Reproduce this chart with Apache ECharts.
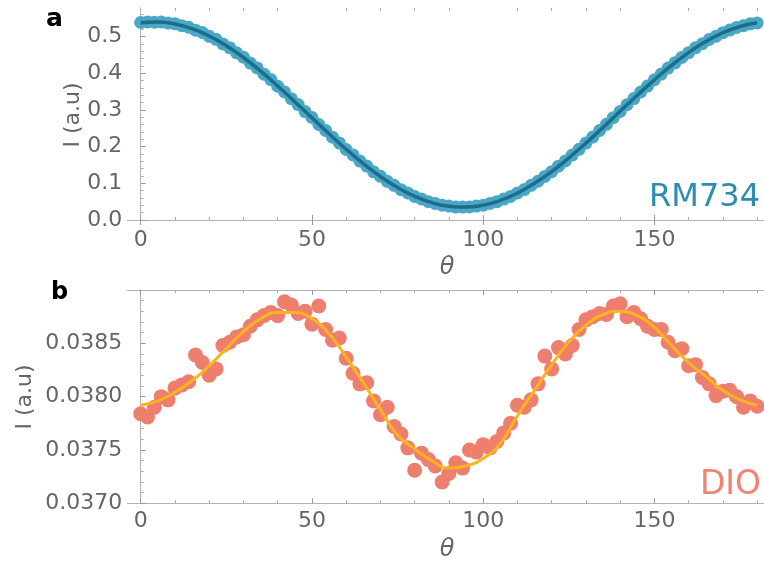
<!DOCTYPE html>
<html>
<head>
<meta charset="utf-8">
<script src="https://cdn.jsdelivr.net/npm/echarts@6.0.0/dist/echarts.min.js"></script>
<style>
html,body{margin:0;padding:0;background:#fff;}
#chart{width:764px;height:569px;}
</style>
</head>
<body>
<div id="chart"></div>
<script>
// ---- data ----
const theta = [0,2,4,6,8,10,12,14,16,18,20,22,24,26,28,30,32,34,36,38,40,42,44,46,48,50,52,54,56,58,60,62,64,66,68,70,72,74,76,78,80,82,84,86,88,90,92,94,96,98,100,102,104,106,108,110,112,114,116,118,120,122,124,126,128,130,132,134,136,138,140,142,144,146,148,150,152,154,156,158,160,162,164,166,168,170,172,174,176,178,180];
const thetaFit = [0,5,10,15,20,25,30,35,40,45,50,55,60,65,70,75,80,85,90,95,100,105,110,115,120,125,130,135,140,145,150,155,160,165,170,175,180];

const rm734Points = [0.5385,0.5401,0.5392,0.5398,0.5368,0.5352,0.5296,0.5255,0.5176,0.5112,0.5008,0.4925,0.4801,0.4698,0.4558,0.4437,0.4279,0.4146,0.3975,0.3829,0.3648,0.3493,0.3306,0.3146,0.2956,0.2794,0.2604,0.2443,0.2257,0.2101,0.1922,0.1774,0.1607,0.1469,0.1314,0.1190,0.1053,0.0946,0.0827,0.0739,0.0641,0.0572,0.0498,0.0451,0.0402,0.0378,0.0353,0.0352,0.0354,0.0378,0.0402,0.0451,0.0499,0.0571,0.0643,0.0737,0.0829,0.0944,0.1056,0.1188,0.1317,0.1466,0.1610,0.1771,0.1926,0.2098,0.2261,0.2440,0.2608,0.2790,0.2960,0.3142,0.3310,0.3489,0.3652,0.3824,0.3979,0.4141,0.4284,0.4433,0.4562,0.4694,0.4806,0.4921,0.5013,0.5108,0.5179,0.5251,0.5299,0.5348,0.5372];
const rm734Fit = [0.5375,0.5398,0.5345,0.5216,0.5016,0.4752,0.4430,0.4060,0.3655,0.3226,0.2787,0.2350,0.1929,0.1537,0.1185,0.0885,0.0646,0.0474,0.0375,0.0352,0.0405,0.0534,0.0734,0.1000,0.1320,0.1690,0.2095,0.2524,0.2963,0.3400,0.3821,0.4213,0.4565,0.4865,0.5105,0.5276,0.5375];

const dioPoints = [0.03784,0.03781,0.03790,0.03800,0.03797,0.03808,0.03811,0.03814,0.03839,0.03832,0.03820,0.03826,0.03848,0.03851,0.03856,0.03858,0.03866,0.03872,0.03876,0.03879,0.03876,0.03889,0.03886,0.03878,0.03880,0.03868,0.03885,0.03863,0.03853,0.03855,0.03836,0.03822,0.03812,0.03813,0.03796,0.03783,0.03790,0.03772,0.03765,0.03752,0.03731,0.03747,0.03741,0.03735,0.03720,0.03728,0.03738,0.03733,0.03750,0.03748,0.03755,0.03752,0.03758,0.03766,0.03775,0.03792,0.03790,0.03797,0.03812,0.03838,0.03826,0.03846,0.03840,0.03848,0.03863,0.03872,0.03875,0.03878,0.03877,0.03885,0.03887,0.03875,0.03879,0.03873,0.03866,0.03863,0.03863,0.03851,0.03843,0.03845,0.03829,0.03830,0.03818,0.03812,0.03801,0.03805,0.03806,0.03800,0.03790,0.03796,0.03791];
const dioFit = [0.03792,0.03796,0.03804,0.03815,0.03829,0.03845,0.03861,0.03873,0.03879,0.03879,0.03873,0.03859,0.03837,0.03813,0.03788,0.03764,0.03751,0.03740,0.03733,0.03735,0.03742,0.03756,0.03782,0.03806,0.03830,0.03851,0.03867,0.03877,0.03880,0.03876,0.03865,0.03848,0.03832,0.03819,0.03806,0.03797,0.03792];

const xMajor = [0,50,100,150];
const xMinor = [10,20,30,40,60,70,80,90,110,120,130,140,160,170,180];
const yTopMajor = [0,0.1,0.2,0.3,0.4,0.5];
const yTopMinor = [0.02,0.04,0.06,0.08,0.12,0.14,0.16,0.18,0.22,0.24,0.26,0.28,0.32,0.34,0.36,0.38,0.42,0.44,0.46,0.48,0.52,0.54,0.56];
const yBotMajor = [0.0370,0.0375,0.0380,0.0385];
const yBotMinor = [0.0371,0.0372,0.0373,0.0374,0.0376,0.0377,0.0378,0.0379,0.0381,0.0382,0.0383,0.0384,0.0386,0.0387,0.0388,0.0389];

// ---- styles ----
const FONT = 'DejaVu Sans';
const GRAY = '#666666';
const FRAME = '#b4b4b4';
const X_MIN = -3.91, X_MAX = 182;

function xAxes(gridIndex, withLabels) {
  return [
    { type:'value', gridIndex, position:'bottom', min:X_MIN, max:X_MAX,
      axisLine:{show:true, lineStyle:{color:FRAME, width:1}},
      axisTick:{show:true, inside:true, length:5, customValues:xMajor, lineStyle:{color:'#999'}},
      axisLabel:{show:withLabels, customValues:xMajor, margin:7, color:GRAY, fontFamily:FONT, fontSize:22},
      splitLine:{show:false} },
    { type:'value', gridIndex, position:'bottom', min:X_MIN, max:X_MAX,
      axisLine:{show:false},
      axisTick:{show:true, inside:true, length:3, customValues:xMinor, lineStyle:{color:'#aaa'}},
      axisLabel:{show:false}, splitLine:{show:false} },
    { type:'value', gridIndex, position:'top', min:X_MIN, max:X_MAX,
      axisLine:{show:true, lineStyle:{color:FRAME, width:1}},
      axisTick:{show:true, inside:true, length:5, customValues:xMajor, lineStyle:{color:'#999'}},
      axisLabel:{show:false}, splitLine:{show:false} },
    { type:'value', gridIndex, position:'top', min:X_MIN, max:X_MAX,
      axisLine:{show:false},
      axisTick:{show:true, inside:true, length:3, customValues:xMinor, lineStyle:{color:'#aaa'}},
      axisLabel:{show:false}, splitLine:{show:false} }
  ];
}
function yAxes(gridIndex, min, max, major, minor, fmt) {
  return [
    { type:'value', gridIndex, position:'left', min, max,
      axisLine:{show:true, lineStyle:{color:FRAME, width:1}},
      axisTick:{show:true, inside:true, length:5, customValues:major, lineStyle:{color:'#999'}},
      axisLabel:{show:true, customValues:major, margin:5, color:GRAY, fontFamily:FONT, fontSize:22, formatter:fmt},
      splitLine:{show:false} },
    { type:'value', gridIndex, position:'left', min, max,
      axisLine:{show:false},
      axisTick:{show:true, inside:true, length:3, customValues:minor, lineStyle:{color:'#aaa'}},
      axisLabel:{show:false}, splitLine:{show:false} },
    { type:'value', gridIndex, position:'right', min, max,
      axisLine:{show:true, lineStyle:{color:FRAME, width:1}},
      axisTick:{show:false}, axisLabel:{show:false}, splitLine:{show:false} }
  ];
}

const chart = echarts.init(document.getElementById('chart'), null, {renderer:'canvas'});
const option = {
  animation:false,
  backgroundColor:'#ffffff',
  grid:[
    {left:127.3, right:0, top:8, height:214},
    {left:127.3, right:0, top:290, height:213.3}
  ],
  xAxis:[...xAxes(0,true), ...xAxes(1,true)],
  yAxis:[
    ...yAxes(0, -0.0055, 0.578, yTopMajor, yTopMinor, v => v.toFixed(1)),
    ...yAxes(1, 0.0370, 0.0390, yBotMajor, yBotMinor, v => v.toFixed(4))
  ],
  series:[
    { type:'scatter', xAxisIndex:0, yAxisIndex:0, symbolSize:13,
      itemStyle:{color:'#4ba7c6', opacity:1},
      data: theta.map((t,i)=>[t, rm734Points[i]]), z:2 },
    { type:'line', xAxisIndex:0, yAxisIndex:0, smooth:true, showSymbol:false,
      lineStyle:{color:'#1c6d8a', width:3.5},
      data: thetaFit.map((t,i)=>[t, rm734Fit[i]]), z:3 },
    { type:'scatter', xAxisIndex:4, yAxisIndex:3, symbolSize:15,
      itemStyle:{color:'#ee7e6d', opacity:1},
      data: theta.map((t,i)=>[t, dioPoints[i]]), z:2 },
    { type:'line', xAxisIndex:4, yAxisIndex:3, smooth:true, showSymbol:false,
      lineStyle:{color:'#fbb41c', width:3},
      data: thetaFit.map((t,i)=>[t, dioFit[i]]), z:3 }
  ],
  graphic:[
    { type:'text', left:46, top:7, style:{text:'a', font:'bold 25px "DejaVu Sans"', fill:'#000'} },
    { type:'text', left:51, top:281, style:{text:'b', font:'bold 24px "DejaVu Sans"', fill:'#000'} },
    { type:'text', x:73, y:115, rotation:Math.PI/2,
      style:{text:'I (a.u)', font:'22px "DejaVu Sans"', fill:GRAY, align:'center', verticalAlign:'middle'} },
    { type:'text', x:25, y:397, rotation:Math.PI/2,
      style:{text:'I (a.u)', font:'22px "DejaVu Sans"', fill:GRAY, align:'center', verticalAlign:'middle'} },
    { type:'text', x:447, y:268,
      style:{text:'θ', font:'italic 24px "DejaVu Sans"', fill:GRAY, align:'center', verticalAlign:'middle'} },
    { type:'text', x:447, y:550,
      style:{text:'θ', font:'italic 24px "DejaVu Sans"', fill:GRAY, align:'center', verticalAlign:'middle'} },
    { type:'text', x:760, y:198,
      style:{text:'RM734', font:'32px "DejaVu Sans"', fill:'#2b8db0', align:'right', verticalAlign:'middle'} },
    { type:'text', x:761, y:485,
      style:{text:'DIO', font:'33px "DejaVu Sans"', fill:'#f08470', align:'right', verticalAlign:'middle'} }
  ]
};
chart.setOption(option);
</script>
</body>
</html>
